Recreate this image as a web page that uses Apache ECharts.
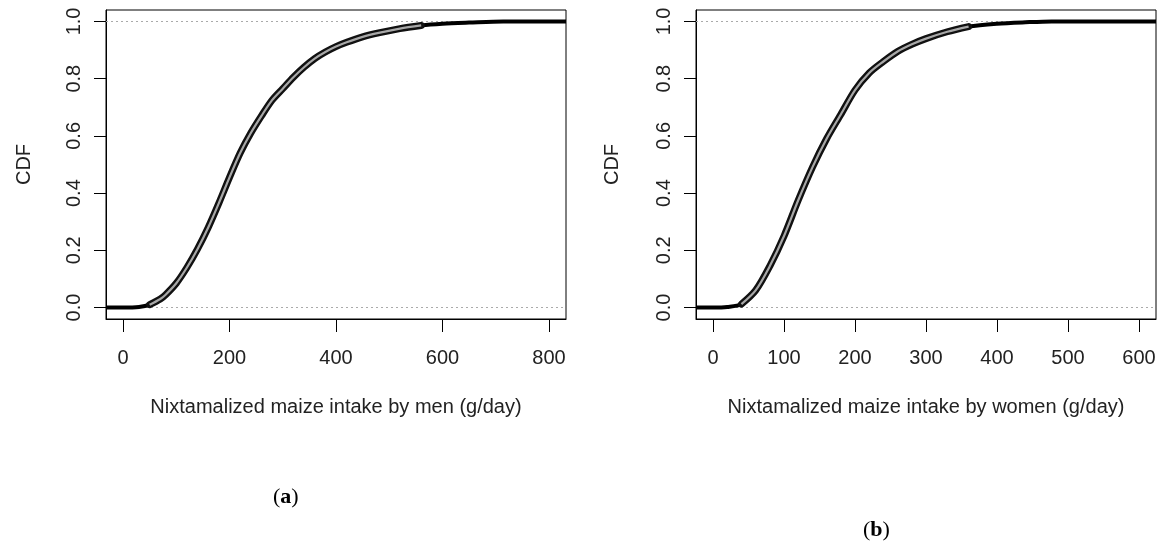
<!DOCTYPE html>
<html>
<head>
<meta charset="utf-8">
<script src="https://cdn.jsdelivr.net/npm/echarts@6/dist/echarts.min.js"></script>
<style>
html,body{margin:0;padding:0;background:#fff;}
#chart{width:1161px;height:552px;}
</style>
</head>
<body>
<div id="chart"></div>
<script>
// ---- data ----
const menIntake = [-32, 0, 30, 50, 70, 80, 100, 120, 140, 160, 180, 200, 220, 240, 260, 280, 300, 320, 340, 360, 380, 400, 420, 450, 480, 520, 560, 600, 650, 714, 832];
const menCDF    = [0, 0, 0.002, 0.01, 0.03, 0.045, 0.085, 0.14, 0.205, 0.28, 0.365, 0.455, 0.54, 0.61, 0.67, 0.725, 0.765, 0.805, 0.84, 0.87, 0.893, 0.912, 0.927, 0.946, 0.96, 0.975, 0.986, 0.992, 0.996, 1, 1];
const womenIntake = [-24, 0, 20, 40, 60, 80, 100, 120, 140, 160, 180, 200, 220, 240, 260, 280, 300, 330, 360, 400, 440, 477, 624];
const womenCDF    = [0, 0, 0.002, 0.012, 0.06, 0.145, 0.25, 0.375, 0.49, 0.59, 0.675, 0.76, 0.82, 0.86, 0.895, 0.92, 0.94, 0.964, 0.982, 0.992, 0.997, 1, 1];
const menTicks = [0, 200, 400, 600, 800];
const womenTicks = [0, 100, 200, 300, 400, 500, 600];
const cdfTicks = [0, 0.2, 0.4, 0.6, 0.8, 1.0];
const menTitle = 'Nixtamalized maize intake by men (g/day)';
const womenTitle = 'Nixtamalized maize intake by women (g/day)';
const yTitle = 'CDF';

const pairs = (xs, ys) => xs.map((x, i) => [x, ys[i]]);
const middle = (xs, ys) => pairs(xs, ys).filter(p => p[1] >= 0.01 && p[1] < 0.99);

const FONT = 'Liberation Sans, Arial, sans-serif';
const TXT = '#222';

function xAxisFor(idx, ticks, min, max, title) {
  return {
    type: 'value', gridIndex: idx, min: min, max: max,
    name: title, nameLocation: 'middle', nameGap: 78,
    nameTextStyle: {fontFamily: FONT, fontSize: 20, color: TXT},
    axisLine: {show: true, onZero: false, lineStyle: {color: '#000', width: 1}},
    axisTick: {show: true, customValues: ticks, length: 13, lineStyle: {color: '#000', width: 1}},
    axisLabel: {customValues: ticks, margin: 29, fontFamily: FONT, fontSize: 20, color: TXT},
    splitLine: {show: false}
  };
}
function yAxisFor(idx, gap) {
  return {
    type: 'value', gridIndex: idx, min: -0.04, max: 1.04,
    name: yTitle, nameLocation: 'middle', nameGap: gap, nameRotate: 90,
    nameTextStyle: {fontFamily: FONT, fontSize: 20, color: TXT},
    axisLine: {show: true, onZero: false, lineStyle: {color: '#000', width: 1}},
    axisTick: {show: true, customValues: cdfTicks, length: 12, lineStyle: {color: '#000', width: 1}},
    axisLabel: {customValues: cdfTicks, rotate: 90, margin: 22, fontFamily: FONT, fontSize: 20, color: TXT,
      formatter: v => Number(v).toFixed(1)},
    splitLine: {show: false}
  };
}
function curveSeries(idx, xs, ys) {
  const base = {type: 'line', xAxisIndex: idx, yAxisIndex: idx, showSymbol: false, symbol: 'none',
    smooth: 0.3, silent: true, animation: false, clip: true};
  return [
    Object.assign({}, base, {
      data: [], z: 1,
      markLine: {silent: true, symbol: 'none', animation: false, z: 1, label: {show: false},
        lineStyle: {type: [2, 3], color: '#aaa', width: 1},
        data: [{yAxis: 0}, {yAxis: 1}]}
    }),
    Object.assign({}, base, {data: pairs(xs, ys), z: 6, lineStyle: {color: '#000', width: 4}}),
    Object.assign({}, base, {data: middle(xs, ys), z: 7, lineStyle: {color: '#111', width: 7, cap: 'round'}}),
    Object.assign({}, base, {data: middle(xs, ys), z: 8, lineStyle: {color: '#a8a8a8', width: 2.2}})
  ];
}

const chart = echarts.init(document.getElementById('chart'), null, {renderer: 'canvas'});
chart.setOption({
  animation: false,
  backgroundColor: '#fff',
  grid: [
    {left: 106, top: 10, width: 460, height: 309, show: true, borderColor: '#000', borderWidth: 1, containLabel: false},
    {left: 696, top: 10, width: 460, height: 309, show: true, borderColor: '#000', borderWidth: 1, containLabel: false}
  ],
  xAxis: [
    xAxisFor(0, menTicks, -32, 832, menTitle),
    xAxisFor(1, womenTicks, -24, 624, womenTitle)
  ],
  yAxis: [yAxisFor(0, 72), yAxisFor(1, 74)],
  series: [].concat(curveSeries(0, menIntake, menCDF), curveSeries(1, womenIntake, womenCDF)),
  graphic: [
    {type: 'text', left: 273, top: 486, style: {
      text: '({b|a})', fontFamily: 'Liberation Serif, serif', fontSize: 22, fill: '#000',
      rich: {b: {fontFamily: 'Liberation Serif, serif', fontSize: 22, fontWeight: 'bold', fill: '#000'}}}},
    {type: 'text', left: 863, top: 519, style: {
      text: '({b|b})', fontFamily: 'Liberation Serif, serif', fontSize: 22, fill: '#000',
      rich: {b: {fontFamily: 'Liberation Serif, serif', fontSize: 22, fontWeight: 'bold', fill: '#000'}}}}
  ]
});
</script>
</body>
</html>
